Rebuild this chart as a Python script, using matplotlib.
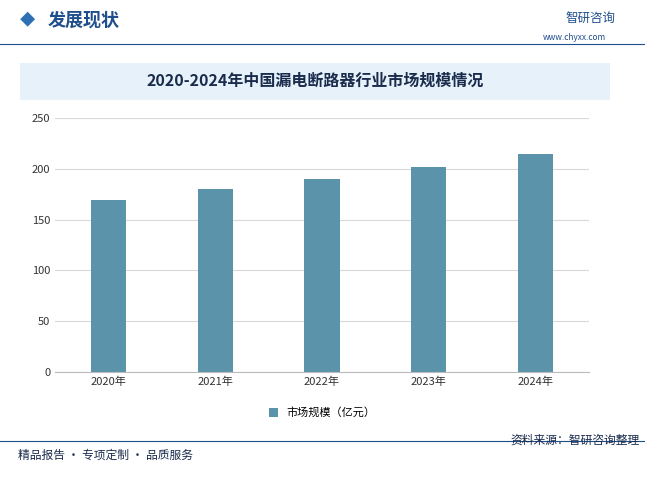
import matplotlib
matplotlib.use("Agg")
import matplotlib.pyplot as plt
from matplotlib.patches import Rectangle

plt.rcParams["font.family"] = ["Noto Sans CJK SC", "DejaVu Sans"]

years = ["2020年", "2021年", "2022年", "2023年", "2024年"]
market_size = [169, 180, 190, 202, 215]
y_ticks = [0, 50, 100, 150, 200, 250]

W, H = 645, 479
fig = plt.figure(figsize=(W / 100, H / 100), dpi=100)
fig.patch.set_facecolor("white")

# header
fig.text(20 / W, 1 - 20 / H, "◆", color="#2f6fb3", fontsize=11, va="center")
fig.text(48 / W, 1 - 20 / H, "发展现状", color="#1f4e8c", fontsize=13, fontweight="bold", va="center")
fig.text(565 / W, 1 - 18 / H, "智研咨询", color="#1f4e8c", fontsize=9, va="center")
fig.text(543 / W, 1 - 38 / H, "www.chyxx.com", color="#1f4e8c", fontsize=6, va="center")
fig.add_artist(plt.Line2D([0, 1], [1 - 44 / H, 1 - 44 / H], color="#1f4e8c", lw=0.8))

# title band
fig.add_artist(Rectangle((20 / W, 1 - 100 / H), 590 / W, 37 / H, transform=fig.transFigure,
                         facecolor="#e6f1fa", edgecolor="none"))
fig.text(315 / W, 1 - 81 / H, "2020-2024年中国漏电断路器行业市场规模情况",
         fontsize=11.5, fontweight="bold", color="#1a2b4c", ha="center", va="center")

ax = fig.add_axes([55 / W, 1 - 372 / H, 534 / W, 254 / H])
x = range(len(years))
ax.bar(x, market_size, width=0.33, color="#5b93aa", label="市场规模（亿元）")
ax.set_xticks(list(x))
ax.set_xticklabels(years, fontsize=8, color="#333333")
ax.set_yticks(y_ticks)
ax.set_ylim(0, 250)
ax.set_xlim(-0.5, 4.5)
ax.tick_params(axis="y", labelsize=8, colors="#333333", length=0)
ax.tick_params(axis="x", length=0)
ax.grid(axis="y", color="#d9d9d9", lw=0.8)
ax.set_axisbelow(True)
for s in ["top", "right", "left"]:
    ax.spines[s].set_visible(False)
ax.spines["bottom"].set_color("#bbbbbb")
ax.legend(loc="upper center", bbox_to_anchor=(0.5, -0.1), frameon=False, fontsize=8,
          handlelength=0.8, handleheight=0.8)

# footer
fig.add_artist(plt.Line2D([0, 1], [1 - 441 / H, 1 - 441 / H], color="#1f4e8c", lw=0.8))
fig.text(18 / W, 1 - 455 / H, "精品报告 · 专项定制 · 品质服务", fontsize=8.5, color="#1a2b4c", va="center")
fig.text(640 / W, 1 - 440 / H, "资料来源：智研咨询整理", fontsize=8.5, color="#1a2b4c", va="center", ha="right")

fig.savefig("out.png", dpi=100)
